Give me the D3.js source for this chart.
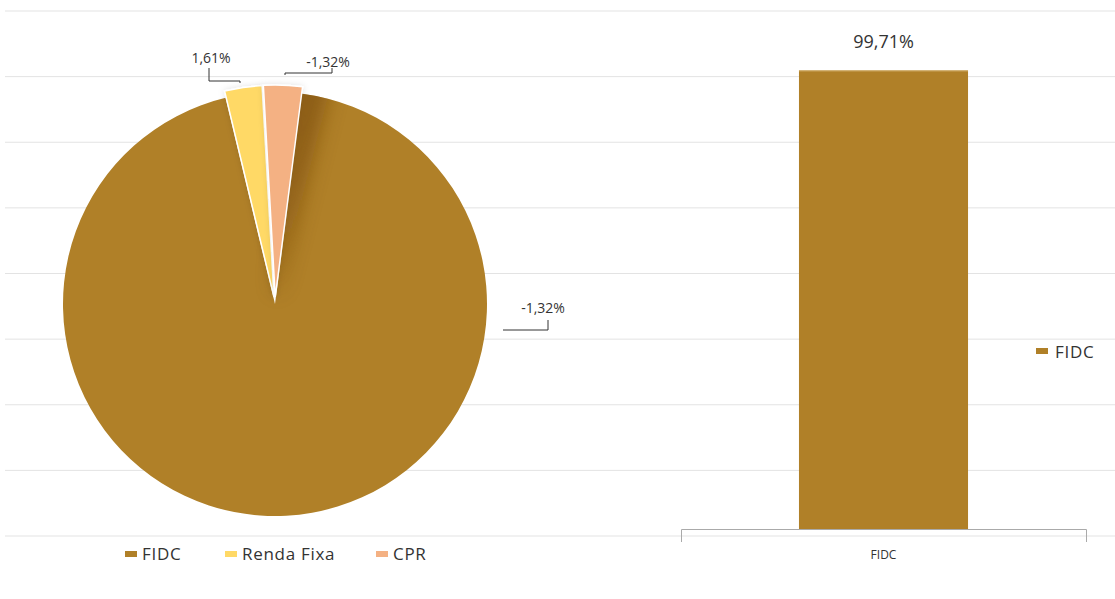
<!DOCTYPE html>
<html>
<head>
<meta charset="utf-8">
<script src="https://cdn.jsdelivr.net/npm/d3@7"></script>
<style>
  body { margin: 0; background: #fff; }
  svg { font-family: "Open Sans", "Noto Sans", sans-serif; }
</style>
</head>
<body>
<div id="chart"></div>
<script>
// dados
const categorias = ['FIDC', 'Renda Fixa', 'CPR'];
const cores = ['#b08028', '#ffd966', '#f4b183'];
const fatias = [94.2, 2.85, 2.95];          // tamanho das fatias como aparece na pizza
const rotulosPizza = ['-1,32%', '1,61%', '-1,32%'];
const barCategorias = ['FIDC'];
const barValores = [99.71];
const barRotulos = ['99,71%'];
const gradeLinhas = [0, 1, 2, 3, 4, 5, 6, 7, 8];

const W = 1115, H = 599;
const svg = d3.select('#chart').append('svg')
  .attr('width', W).attr('height', H);

const defs = svg.append('defs');
defs.append('filter').attr('id', 'blur')
  .attr('x', '-50%').attr('y', '-50%').attr('width', '200%').attr('height', '200%')
  .append('feGaussianBlur').attr('stdDeviation', 10);
const sh = defs.append('filter').attr('id', 'sombra')
  .attr('x', '-50%').attr('y', '-50%').attr('width', '200%').attr('height', '200%');
sh.append('feDropShadow').attr('dx', 0).attr('dy', 0).attr('stdDeviation', 3)
  .attr('flood-color', '#000').attr('flood-opacity', 0.12);

// linhas de grade
const yGrade = d3.scaleLinear().domain([0, 8]).range([536, 11]);
svg.append('g').selectAll('line')
  .data(gradeLinhas)
  .join('line')
  .attr('x1', 5).attr('x2', W)
  .attr('y1', d => yGrade(d)).attr('y2', d => yGrade(d))
  .attr('stroke', '#e3e3e3').attr('stroke-width', 1);

// pizza
const cx = 275, cy = 304, raio = 212;
const g = svg.append('g').attr('transform', `translate(${cx},${cy})`);
const inicio = 7.4 * Math.PI / 180;
const pie = d3.pie().value(d => d).sort(null)
  .startAngle(inicio).endAngle(inicio + 2 * Math.PI);
const arcos = pie(fatias);
const arc = d3.arc().innerRadius(0).outerRadius(raio);
const explode = [0, 7, 7];

defs.append('clipPath').attr('id', 'clipFidc')
  .append('path').attr('d', arc(arcos[0]));

g.selectAll('path.fatia')
  .data(arcos)
  .join('path')
  .attr('class', 'fatia')
  .attr('d', arc)
  .attr('fill', (d, i) => cores[i])
  .attr('stroke', (d, i) => i ? '#fff' : 'none')
  .attr('stroke-width', 1.5)
  .attr('filter', (d, i) => i ? 'url(#sombra)' : null)
  .attr('transform', (d, i) => {
    const a = (d.startAngle + d.endAngle) / 2;
    return `translate(${Math.sin(a) * explode[i]},${-Math.cos(a) * explode[i]})`;
  });

// sombreado 3D na borda da fatia grande
g.append('g').attr('clip-path', 'url(#clipFidc)')
  .append('path')
  .attr('d', d3.arc().innerRadius(10).outerRadius(raio + 20)
    .startAngle(inicio - 0.06).endAngle(inicio + 0.12)())
  .attr('fill', '#7a4c10')
  .attr('opacity', 0.65)
  .attr('filter', 'url(#blur)');

// rótulos com linhas
const rotuloPos = [
  { tx: 543, ty: 313, linha: [[503, 330], [548, 330], [548, 320]] },
  { tx: 211, ty: 63, linha: [[209, 68], [209, 81], [240, 81], [240, 83]] },
  { tx: 328, ty: 67, linha: [[285, 75], [285, 73], [332, 73], [332, 68]] }
];
const lg = svg.append('g');
lg.selectAll('path')
  .data(rotuloPos)
  .join('path')
  .attr('d', d => d3.line()(d.linha))
  .attr('fill', 'none').attr('stroke', '#333').attr('stroke-width', 1);
lg.selectAll('text')
  .data(rotuloPos)
  .join('text')
  .attr('x', d => d.tx).attr('y', d => d.ty)
  .attr('text-anchor', 'middle')
  .attr('font-size', 14).attr('fill', '#333')
  .text((d, i) => rotulosPizza[i]);

// legenda da pizza
const legX = [125, 225, 376];
const leg = svg.append('g').selectAll('g')
  .data(categorias)
  .join('g')
  .attr('transform', (d, i) => `translate(${legX[i]},551)`);
leg.append('rect').attr('width', 12).attr('height', 6)
  .attr('fill', (d, i) => cores[i]);
leg.append('text').attr('x', 17).attr('y', 9)
  .attr('font-size', 17).attr('letter-spacing', 0.7).attr('fill', '#333')
  .text(d => d);

// barras
const x = d3.scaleBand().domain(barCategorias).range([681, 1086]).padding(0.411);
const y = d3.scaleLinear().domain([0, 100]).range([529, 69]);

svg.append('g').selectAll('rect')
  .data(barValores)
  .join('rect')
  .attr('x', (d, i) => x(barCategorias[i]))
  .attr('width', x.bandwidth())
  .attr('y', d => y(d))
  .attr('height', d => y(0) - y(d))
  .attr('fill', cores[0]);
svg.append('g').selectAll('line')
  .data(barValores)
  .join('line')
  .attr('x1', (d, i) => x(barCategorias[i]))
  .attr('x2', (d, i) => x(barCategorias[i]) + x.bandwidth())
  .attr('y1', d => y(d) + 0.5).attr('y2', d => y(d) + 0.5)
  .attr('stroke', '#d6b77a').attr('stroke-width', 1);

svg.append('g').selectAll('text')
  .data(barValores)
  .join('text')
  .attr('x', (d, i) => x(barCategorias[i]) + x.bandwidth() / 2)
  .attr('y', d => y(d) - 22)
  .attr('text-anchor', 'middle')
  .attr('font-size', 18).attr('fill', '#333')
  .text((d, i) => barRotulos[i]);

// eixo x
const eixo = svg.append('g').attr('transform', `translate(0,${y(0)})`)
  .call(d3.axisBottom(x).tickSize(0).tickPadding(21).tickSizeOuter(13));
eixo.select('.domain').attr('stroke', '#aaa');
eixo.selectAll('text').attr('font-size', 12).attr('fill', '#333')
  .attr('font-family', '"Open Sans", sans-serif');

// legenda da barra
const leg2 = svg.append('g').attr('transform', 'translate(1036,348)');
leg2.append('rect').attr('width', 12).attr('height', 6).attr('fill', cores[0]);
leg2.append('text').attr('x', 19).attr('y', 10)
  .attr('font-size', 17).attr('letter-spacing', 0.7).attr('fill', '#333').text(barCategorias[0]);
</script>
</body>
</html>
